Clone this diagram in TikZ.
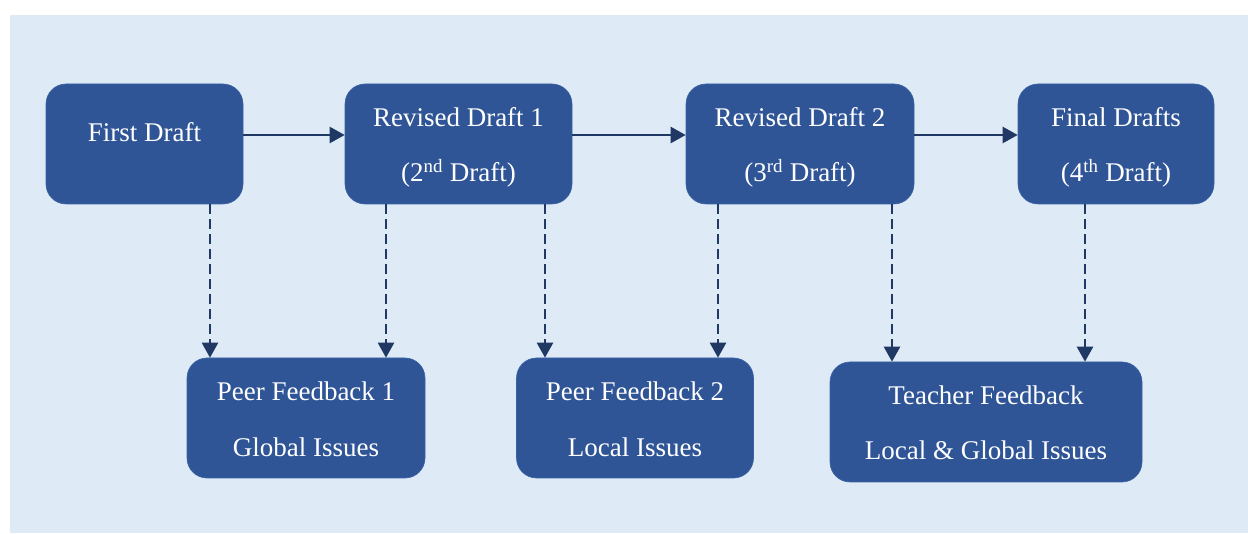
\documentclass[tikz,border=0pt]{standalone}
\usepackage{fontspec}
\setmainfont{Liberation Serif}
\usetikzlibrary{arrows.meta}
\definecolor{bgblue}{HTML}{DEEBF7}
\definecolor{boxblue}{HTML}{2F5597}
\definecolor{boxedge}{HTML}{3A62A3}
\definecolor{navy}{HTML}{1F3864}
\tikzset{
  stagebox/.style={rectangle, rounded corners=20pt, fill=boxblue, draw=boxedge, line width=0.6pt,
    minimum height=120pt, inner sep=0pt},
  boxtext/.style={anchor=base, inner sep=0pt, text=white, font=\fontsize{27}{33}\selectfont},
  flowarrow/.style={draw=navy, line width=2.4pt, -{Triangle[length=15pt,width=16pt]}},
  fbarrow/.style={draw=navy, line width=2.4pt, dash pattern=on 10pt off 5pt, -{Triangle[length=15pt,width=16pt]}}
}
\begin{document}
\begin{tikzpicture}[x=1pt,y=1pt]
\useasboundingbox (0,0) rectangle (1248,533);
\fill[bgblue] (10,0) rectangle (1248,518);
% top row
\node[stagebox, minimum width=197pt] (fd)  at (144.5,389) {};
\node[stagebox, minimum width=227pt] (rd1) at (458.5,389) {};
\node[stagebox, minimum width=228pt] (rd2) at (800,389) {};
\node[stagebox, minimum width=196pt] (fin) at (1116,389) {};
% bottom row
\node[stagebox, minimum width=238pt] (pf1) at (306,115) {};
\node[stagebox, minimum width=237pt] (pf2) at (635,115) {};
\node[stagebox, minimum width=312pt] (tf)  at (986,111) {};
% texts
\node[boxtext] (fdt)  at (144.5,391) {First Draft};
\node[boxtext] (rd1a) at (458.5,406) {Revised Draft 1};
\node[boxtext] (rd1b) at (458.5,351) {(2\textsuperscript{nd} Draft)};
\node[boxtext] (rd2a) at (800,406) {Revised Draft 2};
\node[boxtext] (rd2b) at (800,351) {(3\textsuperscript{rd} Draft)};
\node[boxtext] (fina) at (1116,406) {Final Drafts};
\node[boxtext] (finb) at (1116,351) {(4\textsuperscript{th} Draft)};
\node[boxtext] (pf1a) at (306,132) {Peer Feedback 1};
\node[boxtext] (pf1b) at (306,76) {Global Issues};
\node[boxtext] (pf2a) at (635,132) {Peer Feedback 2};
\node[boxtext] (pf2b) at (635,76) {Local Issues};
\node[boxtext] (tfa)  at (986,128) {Teacher Feedback};
\node[boxtext] (tfb)  at (986,73) {Local \& Global Issues};
% horizontal arrows
\draw[flowarrow] ([yshift=9pt]fd.east)  -- ([yshift=9pt]rd1.west);
\draw[flowarrow] ([yshift=9pt]rd1.east) -- ([yshift=9pt]rd2.west);
\draw[flowarrow] ([yshift=9pt]rd2.east) -- ([yshift=9pt]fin.west);
% dashed feedback arrows
\draw[fbarrow] ([xshift=65.5pt]fd.south)   -- ([xshift=-96pt]pf1.north);
\draw[fbarrow] ([xshift=-72.5pt]rd1.south) -- ([xshift=80pt]pf1.north);
\draw[fbarrow] ([xshift=86.5pt]rd1.south)  -- ([xshift=-90pt]pf2.north);
\draw[fbarrow] ([xshift=-82pt]rd2.south)   -- ([xshift=83pt]pf2.north);
\draw[fbarrow] ([xshift=92pt]rd2.south)    -- ([xshift=-94pt]tf.north);
\draw[fbarrow] ([xshift=-31pt]fin.south)   -- ([xshift=99pt]tf.north);
\end{tikzpicture}
\end{document}
